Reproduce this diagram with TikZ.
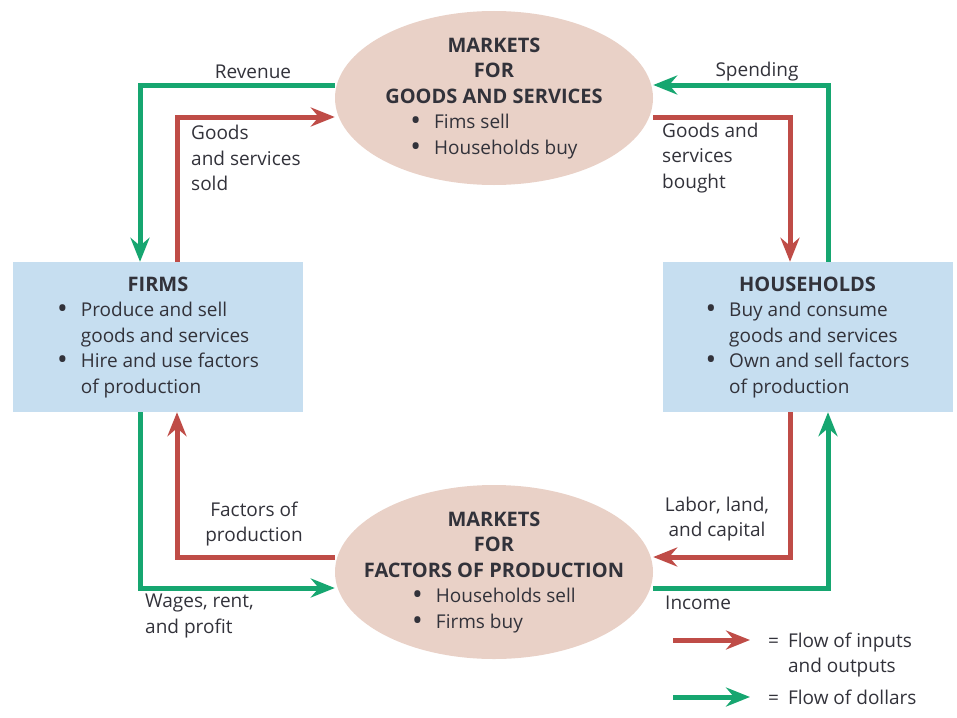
\documentclass[tikz,border=0pt]{standalone}
\usepackage{fontspec}
\setmainfont{Open Sans}
\usetikzlibrary{shapes.geometric,arrows.meta}
\definecolor{flowred}{RGB}{191,76,71}
\definecolor{flowgreen}{RGB}{22,166,112}
\definecolor{boxblue}{RGB}{198,222,240}
\definecolor{ellpink}{RGB}{233,209,199}
\definecolor{txt}{RGB}{50,50,58}
\newcommand\ttlfont{\fontsize{20}{25.5}\selectfont\bfseries}
\newcommand\bodyfont{\fontsize{19}{25.5}\selectfont}
\newcommand\bul{\raisebox{-0.11em}{\scalebox{1.5}{•}}}
\tikzset{
  flowline/.style={line width=5pt, -{Stealth[length=24pt,width=19pt,inset=8pt]}},
  redflow/.style={flowline, draw=flowred},
  greenflow/.style={flowline, draw=flowgreen},
  agentbox/.style={rectangle, fill=boxblue, minimum width=290pt, minimum height=150pt, inner sep=0pt, text=txt, font=\bodyfont},
  marketell/.style={ellipse, fill=ellpink, minimum width=318pt, minimum height=174pt, inner sep=0pt},
  markettext/.style={inner sep=0pt, text=txt, font=\bodyfont},
  flowlabel/.style={inner sep=0pt, text=txt, font=\bodyfont},
}
\begin{document}
\begin{tikzpicture}[x=1pt,y=-1pt]
\useasboundingbox (0,0) rectangle (957,717);
% markets
\node[marketell] (mg) at (494,98) {};
\node[markettext] (mgtext) at (mg.center) {\begin{tabular}{@{}c@{}}\ttlfont MARKETS\\ \ttlfont FOR\\ \ttlfont GOODS AND SERVICES\\
 \begin{tabular}[t]{@{}l@{\hspace{13pt}}l@{}}\bul&Fims sell\\ \bul&Households buy\end{tabular}\end{tabular}};
\node[marketell] (mf) at (494,572) {};
\node[markettext] (mftext) at (mf.center) {\begin{tabular}{@{}c@{}}\ttlfont MARKETS\\ \ttlfont FOR\\ \ttlfont FACTORS OF PRODUCTION\\
 \begin{tabular}[t]{@{}l@{\hspace{13pt}}l@{}}\bul&Households sell\\ \bul&Firms buy\end{tabular}\end{tabular}};
% agents
\node[agentbox] (firms) at (158,337) {\begin{tabular}{@{}c@{}}\ttlfont FIRMS\\
 \begin{tabular}[t]{@{}l@{\hspace{13pt}}l@{}}\bul&Produce and sell\\ &goods and services\\ \bul&Hire and use factors\\ &of production\end{tabular}\end{tabular}};
\node[agentbox] (hh) at (807.5,337) {\begin{tabular}{@{}c@{}}\ttlfont HOUSEHOLDS\\
 \begin{tabular}[t]{@{}l@{\hspace{13pt}}l@{}}\bul&Buy and consume\\ &goods and services\\ \bul&Own and sell factors\\ &of production\end{tabular}\end{tabular}};
% flows
\draw[greenflow] (mg.west |- 0,85) -| (140,0 |- firms.north);
\draw[redflow] (177,0 |- firms.north) |- (mg.west |- 0,117);
\draw[greenflow] (828,0 |- hh.north) |- (mg.east |- 0,85);
\draw[redflow] (mg.east |- 0,117) -| (790,0 |- hh.north);
\draw[redflow] (mf.west |- 0,557) -| (177,0 |- firms.south);
\draw[greenflow] (140,0 |- firms.south) |- (mf.west |- 0,588);
\draw[redflow] (790,0 |- hh.south) |- (mf.east |- 0,557);
\draw[greenflow] (mf.east |- 0,588) -| (828,0 |- hh.south);
% labels
\node[flowlabel] (lrev) at (253,72) {Revenue};
\node[flowlabel, anchor=west, align=left] (lsold) at (191,158) {Goods\\and services\\sold};
\node[flowlabel] (lspend) at (757,72) {Spending};
\node[flowlabel, anchor=west, align=left] (lbought) at (662,158) {Goods and\\services\\bought};
\node[flowlabel, align=center] (lfac) at (254,524) {Factors of\\production};
\node[flowlabel, anchor=west, align=left] (lwages) at (145,616) {Wages, rent,\\and profit};
\node[flowlabel, align=center] (llabor) at (717,519) {Labor, land,\\and capital};
\node[flowlabel, anchor=west] (linc) at (665,603) {Income};
% legend
\coordinate (lra) at (673,640);
\coordinate (lrb) at (750,640);
\coordinate (lga) at (673,697);
\coordinate (lgb) at (750,697);
\draw[redflow] (lra) -- (lrb);
\draw[greenflow] (lga) -- (lgb);
\node[flowlabel, anchor=base west] (legr) at (768,647) {\begin{tabular}[t]{@{}l@{\hspace{9pt}}l@{}}=&Flow of inputs\\ &and outputs\end{tabular}};
\node[flowlabel, anchor=base west] (legg) at (768,704) {\begin{tabular}[t]{@{}l@{\hspace{9pt}}l@{}}=&Flow of dollars\end{tabular}};
\end{tikzpicture}
\end{document}
